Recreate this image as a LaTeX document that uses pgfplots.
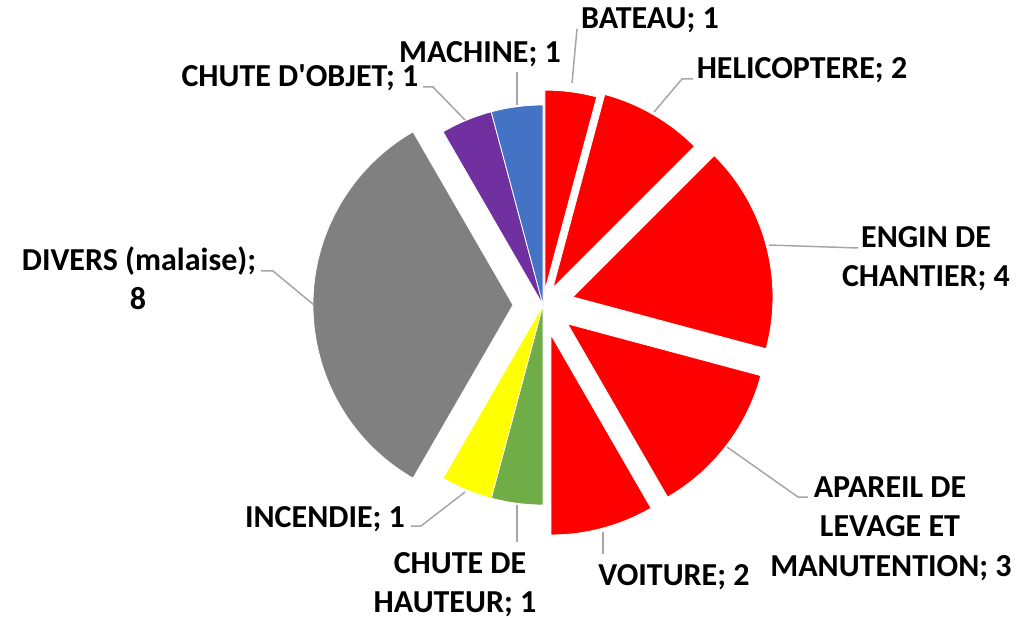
\documentclass[border=0pt]{standalone}
\usepackage{pgfplots}
\usepackage{pgfplotstable}
\pgfplotsset{compat=1.18}
\usepackage{fontspec}
\setmainfont{Carlito}

\definecolor{sred}{HTML}{FF0000}
\definecolor{sblue}{HTML}{4472C4}
\definecolor{spurple}{HTML}{7030A0}
\definecolor{sgray}{HTML}{808080}
\definecolor{syellow}{HTML}{FFFF00}
\definecolor{sgreen}{HTML}{70AD47}
\definecolor{leader}{HTML}{A6A6A6}

\tikzset{lbl/.style={anchor=base, inner sep=0pt, font=\fontsize{16}{19.5}\selectfont\bfseries}}

% slices clockwise from 12 o'clock; explode in px
\pgfplotstableread{
value explode colour
1 15 sred
2 20 sred
4 31 sred
3 31 sred
2 31 sred
1 0  sgreen
1 0  syellow
8 30 sgray
1 0  spurple
1 0  sblue
}\piedata

\begin{document}
\begin{tikzpicture}
\begin{axis}[
    scale only axis,
    width=514.5pt, height=308.5pt,
    xmin=0, xmax=1029, ymin=0, ymax=617,
    hide axis, clip=false,
]
\path (axis cs:0,0) rectangle (axis cs:1029,617);

\pgfplotstablegetrowsof{\piedata}
\pgfmathtruncatemacro\nrows{\pgfplotsretval-1}
\def\total{0}
\pgfplotsforeachungrouped \i in {0,...,\nrows}{%
  \pgfplotstablegetelem{\i}{value}\of\piedata
  \pgfmathsetmacro\total{\total+\pgfplotsretval}%
}
\def\cum{0}
\pgfplotsforeachungrouped \i in {0,...,\nrows}{%
  \pgfplotstablegetelem{\i}{value}\of\piedata \let\val\pgfplotsretval
  \pgfplotstablegetelem{\i}{explode}\of\piedata \let\ex\pgfplotsretval
  \pgfplotstablegetelem{\i}{colour}\of\piedata \let\col\pgfplotsretval
  \pgfmathsetmacro\angA{90-360*\cum/\total}%
  \pgfmathsetmacro\angB{90-360*(\cum+\val)/\total}%
  \pgfmathsetmacro\angM{(\angA+\angB)/2}%
  \pgfmathsetmacro\apx{543+\ex*cos(\angM)}%
  \pgfmathsetmacro\apy{312+\ex*sin(\angM)}%
  \edef\doslice{\noexpand\fill[\col, draw=white, line width=0.4pt]
    (axis cs:\apx,\apy) -- ++(\angA:100pt)
    arc[start angle=\angA, end angle=\angB, radius=100pt] -- cycle;}%
  \doslice
  \pgfmathsetmacro\cum{\cum+\val}%
}

% leader lines
\draw[leader, line width=0.75pt] (axis cs:577,588) -- (axis cs:572,534);
\draw[leader, line width=0.75pt] (axis cs:693,538) -- (axis cs:682,538) -- (axis cs:654,505);
\draw[leader, line width=0.75pt] (axis cs:858,369) -- (axis cs:769,372);
\draw[leader, line width=0.75pt] (axis cs:808,120) -- (axis cs:798,120) -- (axis cs:727,170);
\draw[leader, line width=0.75pt] (axis cs:603,85) -- (axis cs:603,63);
\draw[leader, line width=0.75pt] (axis cs:517,112) -- (axis cs:517,75);
\draw[leader, line width=0.75pt] (axis cs:411,91) -- (axis cs:421,91) -- (axis cs:465,125);
\draw[leader, line width=0.75pt] (axis cs:261,346) -- (axis cs:273,346) -- (axis cs:314,312);
\draw[leader, line width=0.75pt] (axis cs:423,530) -- (axis cs:433,530) -- (axis cs:465,497);
\draw[leader, line width=0.75pt] (axis cs:517,545) -- (axis cs:517,512);

% labels
\node[lbl] at (axis cs:650,588) {BATEAU; 1};
\node[lbl] at (axis cs:802,538) {HELICOPTERE; 2};
\node[lbl] at (axis cs:926,369) {ENGIN DE};
\node[lbl] at (axis cs:926,330) {CHANTIER; 4};
\node[lbl] at (axis cs:890,120) {APAREIL DE};
\node[lbl] at (axis cs:890,81) {LEVAGE ET};
\node[lbl] at (axis cs:891,41) {MANUTENTION; 3};
\node[lbl] at (axis cs:674,32) {VOITURE; 2};
\node[lbl] at (axis cs:460,44) {CHUTE DE};
\node[lbl] at (axis cs:455,5) {HAUTEUR; 1};
\node[lbl] at (axis cs:325,90) {INCENDIE; 1};
\node[lbl] at (axis cs:139,346) {DIVERS (malaise);};
\node[lbl] at (axis cs:138,307) {8};
\node[lbl] at (axis cs:300,530) {CHUTE D\textquotesingle OBJET; 1};
\node[lbl] at (axis cs:480,554) {MACHINE; 1};
\end{axis}
\end{tikzpicture}
\end{document}
